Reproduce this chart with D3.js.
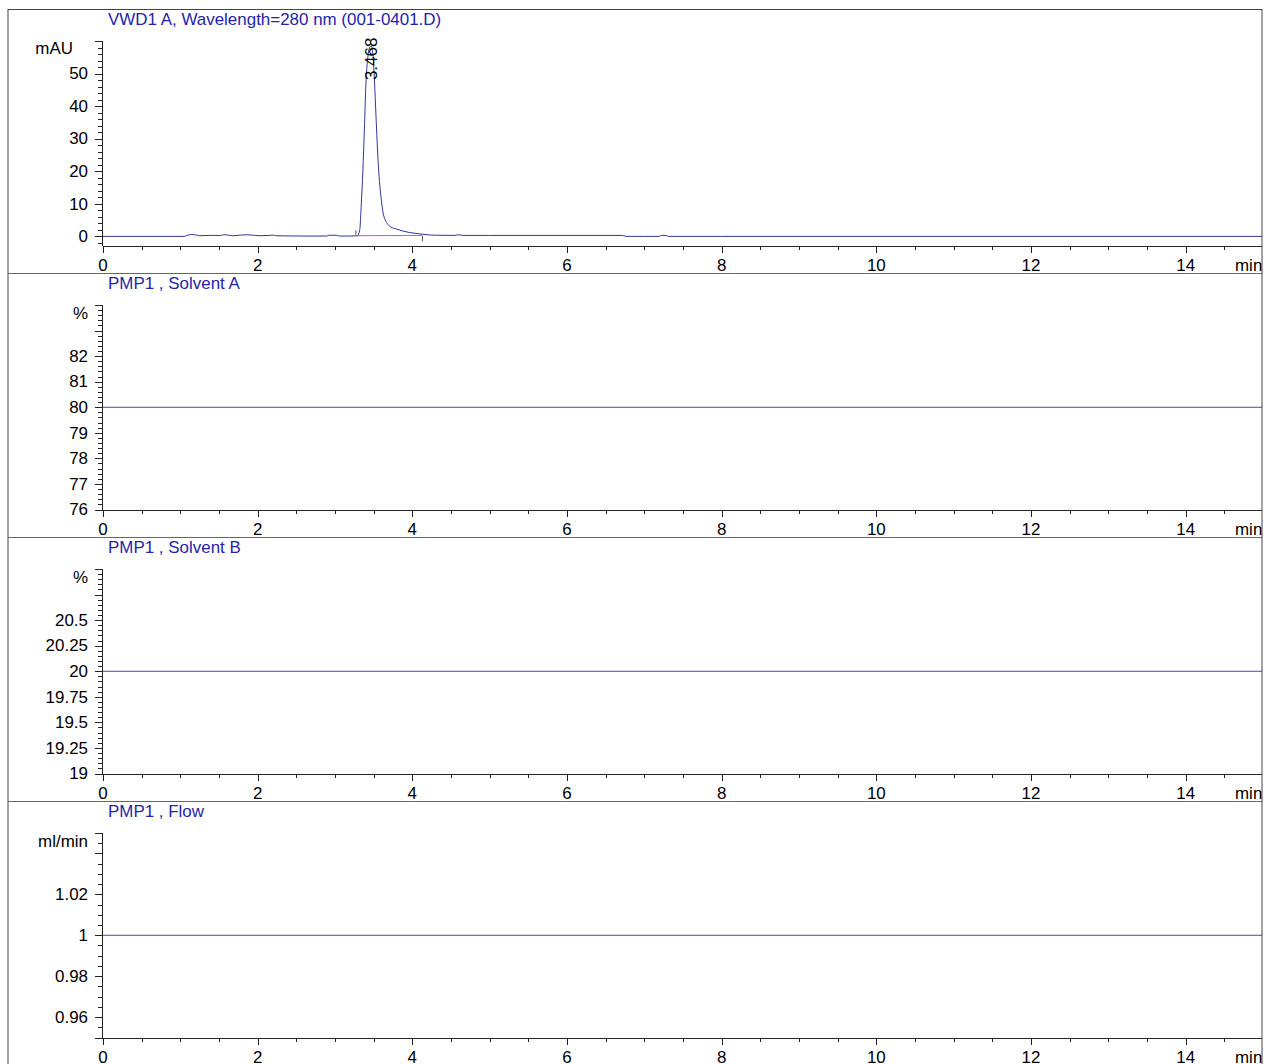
<!DOCTYPE html>
<html lang="en">
<head>
<meta charset="utf-8">
<title>VWD1 A, Wavelength=280 nm (001-0401.D)</title>
<style>
  body { margin: 0; background: #fff; }
  svg text { font-family: "Liberation Sans", Arial, sans-serif; font-size: 16px; fill: #000; }
  .title { fill: #2424aa; }
  .axis path, .axis line { stroke: #222; shape-rendering: crispEdges; }
</style>
<script src="https://d3js.org/d3.v7.min.js"></script>
</head>
<body>
<svg width="1277" height="1064"></svg>
<script>
// detector trace, min / mAU
var timeMin = [0, 1.05, 1.1, 1.14, 1.2, 1.25, 1.38, 1.45, 1.51, 1.55, 1.58, 1.61, 1.68, 1.78, 1.85, 1.92,
  2.03, 2.15, 2.2, 2.24, 2.35, 2.6, 2.89, 2.93, 3.02, 3.06, 3.2, 3.29, 3.32, 3.34, 3.36, 3.38, 3.4,
  3.42, 3.44, 3.468, 3.49, 3.51, 3.53, 3.56, 3.6, 3.62, 3.65, 3.68, 3.72, 3.79, 3.87, 3.96, 4.05,
  4.15, 4.3, 4.55, 4.6, 4.65, 5, 6, 6.72, 6.76, 7, 7.19, 7.22, 7.28, 7.31, 8, 15];
var signalMAU = [0, 0, 0.4, 0.6, 0.45, 0.2, 0.3, 0.3, 0.25, 0.45, 0.5, 0.4, 0.2, 0.4, 0.5, 0.4,
  0.2, 0.3, 0.4, 0.2, 0.15, 0.1, 0.1, 0.35, 0.35, 0.1, 0.1, 0.2, 2, 10, 20, 33, 47,
  54, 57.5, 58.5, 56, 48, 37, 22, 11, 7.5, 5, 3.8, 2.9, 2.3, 1.7, 1.2, 0.9,
  0.6, 0.35, 0.3, 0.5, 0.3, 0.3, 0.3, 0.3, 0, 0, 0, 0.3, 0.3, 0, 0, 0];

var peakTime = 3.468;
var peakLabel = "3.468";
var integrationBaseline = [[3.29, 0.2], [4.13, 0.3]];
var integrationMarks = [[3.27, 0.6, 1.9], [4.13, -1.5, 0.1]];

// pump traces
var pumpTime = [0, 15];
var solventA = [80, 80];
var solventB = [20, 20];
var flow = [1, 1];

var panelTitles = ["VWD1 A, Wavelength=280 nm (001-0401.D)", "PMP1 , Solvent A", "PMP1 , Solvent B", "PMP1 , Flow"];
var panelUnits = ["mAU", "%", "%", "ml/min"];
var yDomains = [[-2.8, 60], [76, 84], [19, 21], [0.95, 1.05]];
var yTickLabels = [
  [0, 10, 20, 30, 40, 50],
  [76, 77, 78, 79, 80, 81, 82],
  [19, 19.25, 19.5, 19.75, 20, 20.25, 20.5],
  [0.96, 0.98, 1, 1.02]
];
var yMajorTicks = [
  [0, 10, 20, 30, 40, 50, 60],
  [76, 77, 78, 79, 80, 81, 82, 83, 84],
  [19, 19.25, 19.5, 19.75, 20, 20.25, 20.5, 20.75, 21],
  [0.95, 0.96, 0.98, 1, 1.02, 1.04, 1.05]
];
var yMinorStep = [2, 0.2, 0.05, 0.005];
var xDomain = [0, 15];
var xTickLabels = [0, 2, 4, 6, 8, 10, 12, 14];
var xMinorStep = 0.5;

var svg = d3.select("svg");
var frameLeft = 8, frameRight = 1262, panelH = 264, firstTop = 9.5;
var plotLeft = 103;
var stretch = 1.06;  // printout font is a bit wider than Arial

var x = d3.scaleLinear().domain(xDomain).range([plotLeft, 1263]);

function label(g, px, py, str, anchor) {
  return g.append("text")
    .attr("transform", "translate(" + px + "," + py + ") scale(" + stretch + ",1)")
    .attr("text-anchor", anchor)
    .text(str);
}

var series = [
  timeMin.map(function(t, i) { return [t, signalMAU[i]]; }),
  pumpTime.map(function(t, i) { return [t, solventA[i]]; }),
  pumpTime.map(function(t, i) { return [t, solventB[i]]; }),
  pumpTime.map(function(t, i) { return [t, flow[i]]; })
];

svg.append("clipPath").attr("id", "frameclip")
  .append("rect").attr("x", frameLeft).attr("y", 0).attr("width", frameRight - frameLeft).attr("height", 1064);

panelTitles.forEach(function(title, i) {
  var top = firstTop + i * panelH;
  var axisY = top + 236;
  var yTop = top + 31.5;
  var y = d3.scaleLinear().domain(yDomains[i]).range([axisY, yTop]);
  var g = svg.append("g").attr("clip-path", "url(#frameclip)");

  // panel separator
  g.append("line")
    .attr("x1", frameLeft).attr("x2", frameRight)
    .attr("y1", top).attr("y2", top)
    .attr("stroke", "#666");

  label(g, 108, top + 15.5, title, "start").attr("class", "title");

  // y axis: minor + major ticks
  var d = yDomains[i];
  var minors = d3.range(Math.ceil(d[0] / yMinorStep[i]), Math.floor(d[1] / yMinorStep[i] + 1e-6) + 1)
    .map(function(k) { return k * yMinorStep[i]; });
  g.append("g").attr("class", "axis")
    .attr("transform", "translate(" + (plotLeft - 0.5) + ",0)")
    .call(d3.axisLeft(y).tickValues(minors).tickSize(5).tickSizeOuter(0).tickFormat(""));
  g.append("g").attr("class", "axis")
    .attr("transform", "translate(" + (plotLeft - 0.5) + ",0)")
    .call(d3.axisLeft(y).tickValues(yMajorTicks[i]).tickSize(8).tickSizeOuter(0).tickFormat(""))
    .select(".domain").remove();
  // the y axis starts at the top tick
  g.selectAll(".axis .domain").attr("d", "M0," + yTop + "V" + axisY);

  yTickLabels[i].forEach(function(v) {
    label(g, 88, y(v), String(v), "end").attr("dy", "0.36em");
  });
  label(g, i === 0 ? 73 : 88, top + (i === 0 ? 39 : 40), panelUnits[i], "end").attr("dy", "0.36em");

  // x axis
  var xMinors = d3.range(0, Math.floor(xDomain[1] / xMinorStep) + 1).map(function(k) { return k * xMinorStep; });
  g.append("g").attr("class", "axis")
    .attr("transform", "translate(0," + axisY + ")")
    .call(d3.axisBottom(x).tickValues(xMinors).tickSize(4).tickSizeOuter(0).tickFormat(""));
  g.append("g").attr("class", "axis")
    .attr("transform", "translate(0," + axisY + ")")
    .call(d3.axisBottom(x).tickValues(xTickLabels).tickSize(7).tickSizeOuter(0).tickFormat(""))
    .select(".domain").remove();
  xTickLabels.forEach(function(v) {
    label(g, x(v), axisY + 25, String(v), "middle");
  });
  label(g, 1235, axisY + 25, "min", "start");

  var line = d3.line()
    .x(function(p) { return x(p[0]); })
    .y(function(p) { return y(p[1]); })
    .curve(d3.curveMonotoneX);

  if (i === 0) {
    g.append("path")
      .datum(integrationBaseline)
      .attr("fill", "none")
      .attr("stroke", "#dd44dd")
      .attr("d", d3.line().x(function(p) { return x(p[0]); }).y(function(p) { return y(p[1]); }));
  }

  g.append("path")
    .datum(series[i])
    .attr("fill", "none")
    .attr("stroke", i === 0 ? "#34349a" : "#4545a8")
    .attr("stroke-width", 1)
    .attr("d", line);

  if (i === 0) {
    g.selectAll(".mark")
      .data(integrationMarks)
      .enter().append("line")
      .attr("class", "mark")
      .attr("x1", function(m) { return x(m[0]); })
      .attr("x2", function(m) { return x(m[0]); })
      .attr("y1", function(m) { return y(m[1]); })
      .attr("y2", function(m) { return y(m[2]); })
      .attr("stroke", "#555");

    g.append("text")
      .attr("transform", "translate(" + x(peakTime) + "," + y(48) + ") rotate(-90) scale(" + stretch + ",1)")
      .attr("dy", "0.36em")
      .text(peakLabel);
  }
});

// outer frame
svg.append("rect")
  .attr("x", frameLeft).attr("y", firstTop)
  .attr("width", frameRight - frameLeft).attr("height", 1064)
  .attr("fill", "none")
  .attr("stroke", "#444");
</script>
</body>
</html>
